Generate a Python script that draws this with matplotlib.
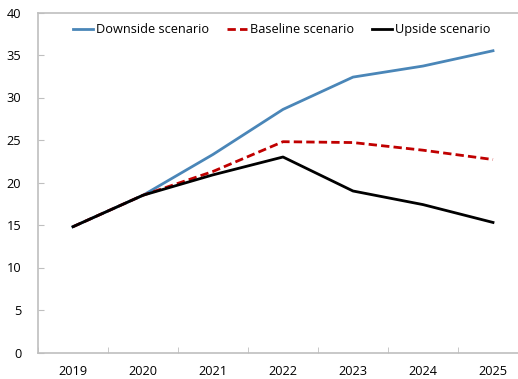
import numpy as np
import matplotlib.pyplot as plt

plt.rcParams['font.family'] = ['Open Sans', 'DejaVu Sans']
plt.rcParams['font.size'] = 9.2

years = ['2019', '2020', '2021', '2022', '2023', '2024', '2025']
downside = [14.8, 18.5, 23.3, 28.6, 32.4, 33.7, 35.5]
baseline = [14.8, 18.5, 21.3, 24.8, 24.7, 23.8, 22.7]
upside = [14.8, 18.5, 20.9, 23.0, 19.0, 17.4, 15.3]

x = np.arange(len(years))

fig = plt.figure(figsize=(5.18, 3.79), dpi=100)
ax = fig.add_axes([38 / 518, 1 - 352.5 / 379, 490 / 518, 340 / 379])

ax.plot(x, downside, color='#4a86b8', linewidth=2, label='Downside scenario')
ax.plot(x, baseline, color='#c00000', linewidth=2, linestyle=(0, (3, 1.5)), label='Baseline scenario')
ax.plot(x, upside, color='black', linewidth=2, label='Upside scenario')

ax.set_xlim(-0.5, 6.5)
ax.set_ylim(0, 40)
ax.set_yticks(range(0, 41, 5))
ax.set_xticks(x)
ax.set_xticklabels(years)
ax.set_xticks(np.arange(-0.5, 7, 1), minor=True)

ax.tick_params(axis='x', which='major', length=0, pad=9)
ax.tick_params(axis='x', which='minor', direction='in', length=4, color='#bfbfbf')
ax.tick_params(axis='y', direction='in', length=4, color='#bfbfbf', pad=12)

for side in ['left', 'bottom', 'top']:
    ax.spines[side].set_color('#bfbfbf')
    ax.spines[side].set_linewidth(1.2)
ax.spines['right'].set_visible(False)

ax.legend(loc='upper left', bbox_to_anchor=(0.053, 0.995), ncol=3, frameon=False,
          handlelength=1.6, handletextpad=0.2, columnspacing=1.4, borderaxespad=0.3)

fig.savefig('out.png', dpi=100)
